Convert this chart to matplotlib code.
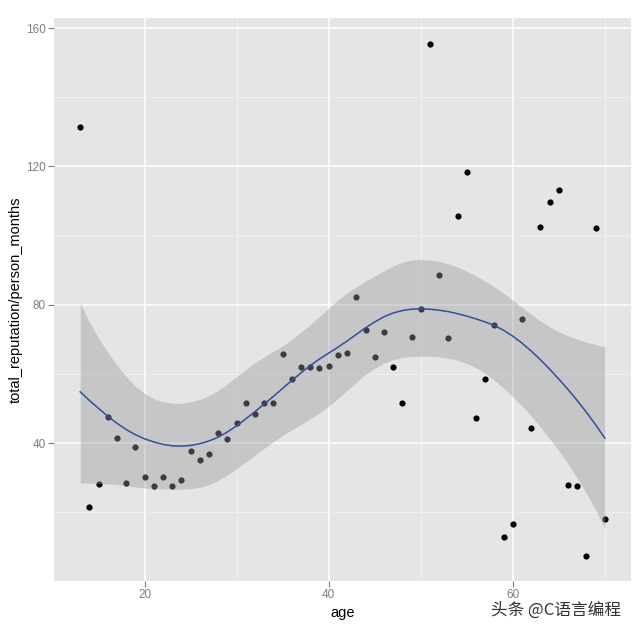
import matplotlib
matplotlib.use("Agg")
import matplotlib.pyplot as plt
from matplotlib.ticker import MultipleLocator

# ---- data ----
age = list(range(13, 71))
rep = [131.3, 21.4, 28.1, 47.4, 41.5, 28.4, 38.8, 30.1, 27.7, 30.2,
       27.7, 29.4, 37.8, 35.1, 36.8, 43.0, 41.2, 45.8, 51.5, 48.4,
       51.6, 51.6, 65.7, 58.4, 61.9, 61.9, 61.7, 62.2, 65.5, 66.1,
       82.1, 72.8, 64.9, 72.0, 61.9, 51.6, 70.8, 78.7, 155.3, 88.7,
       70.5, 105.6, 118.5, 47.1, 58.5, 74.0, 12.9, 16.6, 75.8, 44.2,
       102.6, 109.7, 113.3, 27.8, 27.6, 7.4, 102.2, 18.0]

smooth_age = list(range(13, 71))
fit = [54.8, 52.3, 50.0, 47.7, 45.7, 43.9, 42.4, 41.2, 40.3, 39.6,
       39.2, 39.1, 39.3, 39.8, 40.6, 41.7, 43.2, 45.0, 47.0, 49.1,
       51.3, 53.5, 55.8, 58.1, 60.3, 62.4, 64.3, 66.0, 67.7, 69.5,
       71.4, 73.3, 75.0, 76.5, 77.6, 78.3, 78.7, 78.8, 78.7, 78.4,
       78.0, 77.4, 76.7, 75.9, 75.0, 74.0, 72.6, 70.9, 68.9, 66.6,
       64.1, 61.4, 58.5, 55.5, 52.3, 48.9, 45.3, 41.4]
upper = [80.5, 75.0, 70.3, 66.2, 62.5, 59.2, 56.4, 54.3, 52.8, 51.9,
         51.5, 51.5, 51.9, 52.6, 53.7, 55.2, 57.1, 59.2, 61.3, 63.2,
         64.9, 66.5, 68.1, 70.0, 72.1, 74.3, 76.6, 79.0, 81.4, 83.4,
         85.2, 86.8, 88.3, 89.8, 91.2, 92.3, 92.9, 93.1, 92.9, 92.5,
         91.8, 90.9, 89.7, 88.3, 86.8, 85.1, 83.3, 81.3, 79.3, 77.2,
         75.3, 73.6, 72.2, 71.0, 70.0, 69.2, 68.5, 67.8]
lower = [28.4, 28.4, 28.3, 28.2, 28.0, 27.7, 27.3, 27.0, 26.8, 26.7,
         26.6, 26.6, 26.8, 27.2, 28.0, 29.2, 30.8, 32.6, 34.5, 36.5,
         38.5, 40.4, 42.2, 43.8, 45.4, 47.0, 48.7, 50.6, 52.8, 55.2,
         57.6, 59.8, 61.6, 63.1, 64.1, 64.7, 65.0, 65.1, 65.1, 64.9,
         64.5, 63.9, 63.0, 61.8, 60.2, 58.2, 55.9, 53.4, 50.7, 47.8,
         44.6, 41.3, 37.8, 34.0, 29.9, 25.5, 20.7, 15.4]

xticks = [20, 40, 60]
yticks = [40, 80, 120, 160]

# ---- figure ----
fig = plt.figure(figsize=(6.4, 6.33), dpi=100)
fig.patch.set_facecolor("white")
ax = fig.add_axes([54 / 640, 1 - 581 / 633, (631 - 54) / 640, (581 - 18) / 633])
ax.set_facecolor("#E5E5E5")

ax.set_xlim(10.15, 72.85)
ax.set_ylim(0.1, 162.9)
ax.set_xticks(xticks)
ax.set_yticks(yticks)
ax.xaxis.set_minor_locator(MultipleLocator(10))
ax.yaxis.set_minor_locator(MultipleLocator(20))

ax.grid(which="minor", color="#F2F2F2", linewidth=0.6, zorder=0)
ax.grid(which="major", color="white", linewidth=1.1, zorder=0)
ax.set_axisbelow(True)
for s in ax.spines.values():
    s.set_visible(False)

ax.tick_params(which="major", length=4, width=0.8, color="#7F7F7F",
               labelcolor="#7F7F7F", labelsize=8.5, pad=2)
ax.tick_params(which="minor", length=0)
for lab in ax.get_xticklabels() + ax.get_yticklabels():
    lab.set_family("Liberation Sans")

ax.scatter(age, rep, s=20, color="black", linewidths=0, zorder=2)
ax.fill_between(smooth_age, lower, upper, color="#999999", alpha=0.4,
                linewidth=0, zorder=3)
ax.plot(smooth_age, fit, color="#30509a", linewidth=1.1, zorder=4)

ax.set_xlabel("age", fontsize=10.5, family="Liberation Sans", labelpad=3)
ax.set_ylabel("total_reputation/person_months", fontsize=10.5,
              family="Liberation Sans", labelpad=2)

fig.text(0.97, 0.022, "头条 @C语言编程", ha="right", va="bottom",
         fontsize=12, color="#333333",
         family=["Noto Sans CJK SC", "DejaVu Sans"])

fig.savefig("out.png", dpi=100)
